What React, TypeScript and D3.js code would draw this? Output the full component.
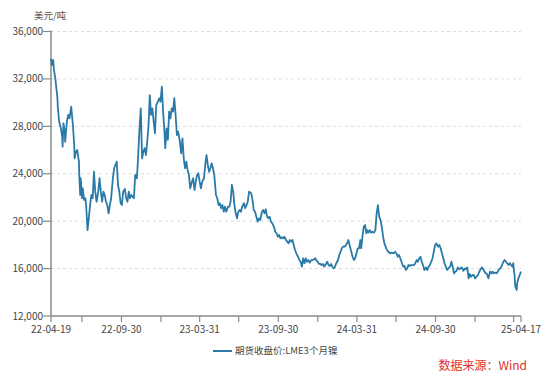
import React from "react";
import * as d3 from "d3";

const dates: string[] = [
  "2022-04-19","2022-04-21","2022-04-24","2022-04-26","2022-04-29","2022-05-04","2022-05-05","2022-05-08","2022-05-12","2022-05-15",
  "2022-05-16","2022-05-18","2022-05-21","2022-05-22","2022-05-26","2022-05-29","2022-06-01","2022-06-05","2022-06-09","2022-06-12",
  "2022-06-13","2022-06-16","2022-06-19","2022-06-23","2022-06-24","2022-06-26","2022-06-27","2022-06-29","2022-06-30","2022-07-02",
  "2022-07-05","2022-07-08","2022-07-10","2022-07-13","2022-07-16","2022-07-19","2022-07-22","2022-07-25","2022-07-28","2022-07-31",
  "2022-08-03","2022-08-07","2022-08-10","2022-08-13","2022-08-16","2022-08-19","2022-08-22","2022-08-25","2022-08-28","2022-08-31",
  "2022-09-03","2022-09-06","2022-09-10","2022-09-13","2022-09-16","2022-09-19","2022-09-22","2022-09-25","2022-09-28","2022-10-01",
  "2022-10-04","2022-10-08","2022-10-11","2022-10-14","2022-10-17","2022-10-20","2022-10-23","2022-10-26","2022-10-29","2022-11-01",
  "2022-11-05","2022-11-08","2022-11-11","2022-11-14","2022-11-17","2022-11-20","2022-11-23","2022-11-26","2022-11-29","2022-12-02",
  "2022-12-05","2022-12-08","2022-12-11","2022-12-14","2022-12-17","2022-12-20","2022-12-24","2022-12-27","2022-12-30","2023-01-02",
  "2023-01-05","2023-01-08","2023-01-10","2023-01-13","2023-01-16","2023-01-19","2023-01-22","2023-01-25","2023-01-28","2023-01-31",
  "2023-02-03","2023-02-06","2023-02-09","2023-02-13","2023-02-16","2023-02-19","2023-02-22","2023-02-25","2023-02-28","2023-03-03",
  "2023-03-06","2023-03-09","2023-03-13","2023-03-16","2023-03-19","2023-03-22","2023-03-25","2023-03-28","2023-03-31","2023-04-03",
  "2023-04-06","2023-04-10","2023-04-13","2023-04-16","2023-04-19","2023-04-22","2023-04-25","2023-04-28","2023-05-01","2023-05-04",
  "2023-05-08","2023-05-11","2023-05-14","2023-05-17","2023-05-20","2023-05-23","2023-05-26","2023-05-29","2023-06-01","2023-06-05",
  "2023-06-08","2023-06-11","2023-06-14","2023-06-17","2023-06-20","2023-06-23","2023-06-26","2023-06-29","2023-07-02","2023-07-05",
  "2023-07-08","2023-07-12","2023-07-15","2023-07-18","2023-07-21","2023-07-24","2023-07-29","2023-08-01","2023-08-04","2023-08-07",
  "2023-08-10","2023-08-13","2023-08-16","2023-08-19","2023-08-23","2023-08-26","2023-08-29","2023-09-01","2023-09-04","2023-09-07",
  "2023-09-10","2023-09-13","2023-09-16","2023-09-20","2023-09-23","2023-09-26","2023-09-29","2023-10-02","2023-10-05","2023-10-08",
  "2023-10-11","2023-10-14","2023-10-18","2023-10-21","2023-10-24","2023-10-27","2023-10-30","2023-11-02","2023-11-05","2023-11-08",
  "2023-11-11","2023-11-15","2023-11-18","2023-11-21","2023-11-24","2023-11-27","2023-11-30","2023-12-03","2023-12-06","2023-12-09",
  "2023-12-12","2023-12-16","2023-12-19","2023-12-22","2023-12-25","2023-12-28","2023-12-31","2024-01-03","2024-01-06","2024-01-09",
  "2024-01-12","2024-01-15","2024-01-19","2024-01-22","2024-01-25","2024-01-28","2024-01-31","2024-02-03","2024-02-06","2024-02-09",
  "2024-02-12","2024-02-16","2024-02-19","2024-02-22","2024-02-25","2024-02-28","2024-03-03","2024-03-08","2024-03-11","2024-03-15",
  "2024-03-18","2024-03-21","2024-03-24","2024-03-27","2024-03-30","2024-04-02","2024-04-05","2024-04-08","2024-04-10","2024-04-13",
  "2024-04-16","2024-04-19","2024-04-22","2024-04-24","2024-04-27","2024-04-30","2024-05-03","2024-05-06","2024-05-10","2024-05-13",
  "2024-05-16","2024-05-19","2024-05-20","2024-05-22","2024-05-25","2024-05-28","2024-05-31","2024-06-03","2024-06-06","2024-06-09",
  "2024-06-12","2024-06-16","2024-06-20","2024-06-25","2024-06-28","2024-07-01","2024-07-04","2024-07-07","2024-07-10","2024-07-14",
  "2024-07-17","2024-07-20","2024-07-23","2024-07-26","2024-07-29","2024-08-01","2024-08-04","2024-08-07","2024-08-11","2024-08-14",
  "2024-08-17","2024-08-20","2024-08-23","2024-08-26","2024-08-29","2024-09-01","2024-09-04","2024-09-08","2024-09-11","2024-09-14",
  "2024-09-17","2024-09-20","2024-09-23","2024-09-26","2024-09-29","2024-10-02","2024-10-06","2024-10-09","2024-10-12","2024-10-15",
  "2024-10-18","2024-10-21","2024-10-24","2024-10-27","2024-10-30","2024-11-03","2024-11-06","2024-11-09","2024-11-12","2024-11-15",
  "2024-11-18","2024-11-21","2024-11-24","2024-11-27","2024-11-30","2024-12-04","2024-12-07","2024-12-10","2024-12-13","2024-12-16",
  "2024-12-19","2024-12-22","2024-12-25","2024-12-28","2024-12-31","2025-01-03","2025-01-07","2025-01-10","2025-01-13","2025-01-16",
  "2025-01-19","2025-01-22","2025-01-25","2025-01-28","2025-01-31","2025-02-04","2025-02-07","2025-02-10","2025-02-13","2025-02-16",
  "2025-02-19","2025-02-22","2025-02-25","2025-02-28","2025-03-04","2025-03-07","2025-03-10","2025-03-13","2025-03-16","2025-03-19",
  "2025-03-22","2025-03-25","2025-03-28","2025-03-30","2025-03-31","2025-04-02","2025-04-03","2025-04-04","2025-04-07","2025-04-08",
  "2025-04-10","2025-04-11","2025-04-14","2025-04-17"
];

const prices: number[] = [
  33700,33170,33600,32750,32050,30370,29550,28390,27830,27130,
  26280,28250,27550,26700,28390,28960,28680,29660,28110,26430,
  25300,25860,26000,25020,23620,22210,23620,22770,21930,22770,
  21790,21930,21220,19250,20240,21360,22210,21930,24170,22490,
  21640,22490,23620,22490,21640,22490,22210,21640,21360,20660,
  21360,21930,23620,24460,24740,25020,23050,22490,21510,21360,
  22490,22710,21930,21640,22490,21930,22210,22060,21930,23900,
  23620,25580,27830,29520,25300,25860,26150,25580,26700,28110,
  30640,28960,29520,28390,27410,29800,30080,30370,30080,31340,
  29240,27550,26150,27830,26850,29240,28680,29520,29240,30370,
  28960,27270,27550,26700,25720,26990,25300,24460,25020,24320,
  23900,22770,23330,23620,22630,23330,23900,24040,23330,22770,
  23330,23620,24740,25580,24740,24170,24460,24880,24460,23900,
  22210,21930,21360,21510,21090,21360,20800,21220,20800,21220,
  21220,21640,23050,22490,21360,20660,20240,20800,20940,20800,
  21220,21510,21090,21360,21640,22490,22350,21790,20940,20800,
  20380,19960,20240,20100,20800,20940,20660,21000,20380,20240,
  20380,19960,19820,19530,19110,18980,18690,18830,18550,18640,
  18550,18690,18410,18270,18130,18410,18270,18410,17990,17570,
  17290,17000,16720,16580,16160,16870,16450,16870,16580,16720,
  16500,16720,16720,16780,16870,16670,16580,16390,16390,16300,
  16390,16160,16390,16580,16300,16220,16390,16160,16020,16160,
  16450,16720,17150,17420,17710,17850,17850,18130,18410,17850,
  17420,17000,16720,16870,17290,17710,17710,18410,17710,18690,
  19530,19680,18980,19250,19030,19250,19030,19110,19030,19250,
  20660,21360,20940,20380,20100,19530,18690,18130,17850,17570,
  17420,17290,17340,17290,17420,17290,17000,17150,16870,16450,
  16160,16220,15880,16020,16300,16220,16300,16300,16300,16450,
  16720,16580,16870,17000,16580,16300,15880,16100,15880,16160,
  16300,16580,16870,17420,17990,18130,17850,17990,17710,17290,
  16870,16450,16160,15880,16020,16160,16580,16160,15600,15740,
  15820,16100,15940,16020,16100,15820,16020,15940,16100,15180,
  15540,15310,15460,15460,15180,15310,15460,15740,15940,16100,
  15940,15740,15600,15540,15180,15740,15600,15740,15600,15660,
  15600,15740,15940,16020,16300,16580,16720,16580,16450,16300,
  16450,16300,16160,16450,16020,15460,14760,14470,14190,14760,
  15040,15180,15460,15740
];

const yTicks: number[] = [12000, 16000, 20000, 24000, 28000, 32000, 36000];
const labelTickDates: string[] = ["2022-04-19", "2022-09-30", "2023-03-31", "2023-09-30", "2024-03-31", "2024-09-30", "2025-04-17"];
const minorTickDates: string[] = ["2022-06-30", "2022-12-31", "2023-06-30", "2023-12-31", "2024-06-30", "2024-12-31", "2025-03-31"];
const unitLabel = "美元/吨";
const seriesName = "期货收盘价:LME3个月镍";
const sourceText = "数据来源：Wind";

const parse = d3.timeParse("%Y-%m-%d");
const fmt = d3.timeFormat("%y-%m-%d");

export default function App() {
  const W = 550, H = 383;
  const left = 51, right = 521, top = 31.5, bottom = 316;
  const x = d3.scaleTime().domain([parse("2022-04-19")!, parse("2025-04-17")!]).range([left, right]);
  const y = d3.scaleLinear().domain([12000, 36000]).range([bottom, top]);
  const data = dates.map((d, i) => ({ d: parse(d)!, v: prices[i] }));
  const line = d3.line<{ d: Date; v: number }>().x((p) => x(p.d)).y((p) => y(p.v));
  const font = "'Noto Sans CJK SC', 'Noto Sans', sans-serif";
  const axisColor = "#8a8a8a";
  const textColor = "#444";

  return (
    <svg width={W} height={H} style={{ position: "absolute", left: 0, top: 0, background: "#fff" }} fontFamily={font}>
      <rect x={0} y={0} width={W} height={H} fill="#fff" />
      <text x={50} y={19} fontSize={9.5} fill="#555" textAnchor="middle">{unitLabel}</text>
      {yTicks.filter((t) => t > 12000).map((t) => (
        <line key={"g" + t} x1={left} x2={right} y1={y(t)} y2={y(t)} stroke="#dcdcdc" strokeDasharray="3,3" strokeWidth={1} />
      ))}
      {yTicks.map((t) => (
        <g key={"y" + t}>
          <line x1={left - 8} x2={left} y1={y(t)} y2={y(t)} stroke={axisColor} strokeWidth={1.2} />
          <text x={left - 8} y={y(t)} dy="0.35em" fontSize={10} fill={textColor} textAnchor="end">{d3.format(",")(t)}</text>
        </g>
      ))}
      <line x1={left} x2={left} y1={top - 1} y2={bottom} stroke={axisColor} strokeWidth={1.5} />
      <line x1={left} x2={right} y1={bottom} y2={bottom} stroke={axisColor} strokeWidth={1.5} />
      {minorTickDates.map((s) => (
        <line key={"m" + s} x1={x(parse(s)!)} x2={x(parse(s)!)} y1={bottom} y2={bottom + 6} stroke={axisColor} strokeWidth={1.2} />
      ))}
      {labelTickDates.map((s) => (
        <g key={"x" + s}>
          <line x1={x(parse(s)!)} x2={x(parse(s)!)} y1={bottom} y2={bottom + 6} stroke={axisColor} strokeWidth={1.2} />
          <text x={x(parse(s)!)} y={bottom + 17} fontSize={10} fill={textColor} textAnchor="middle">{fmt(parse(s)!)}</text>
        </g>
      ))}
      <path d={line(data) || ""} fill="none" stroke="#2a7aa8" strokeWidth={1.8} strokeLinejoin="round" />
      <line x1={213} x2={232} y1={351} y2={351} stroke="#2a7aa8" strokeWidth={2} />
      <text x={235} y={351} dy="0.35em" fontSize={9.5} fill={textColor}>{seriesName}</text>
      <text x={527} y={366} dy="0.35em" fontSize={12} fill="#e0302a" textAnchor="end">{sourceText}</text>
    </svg>
  );
}
